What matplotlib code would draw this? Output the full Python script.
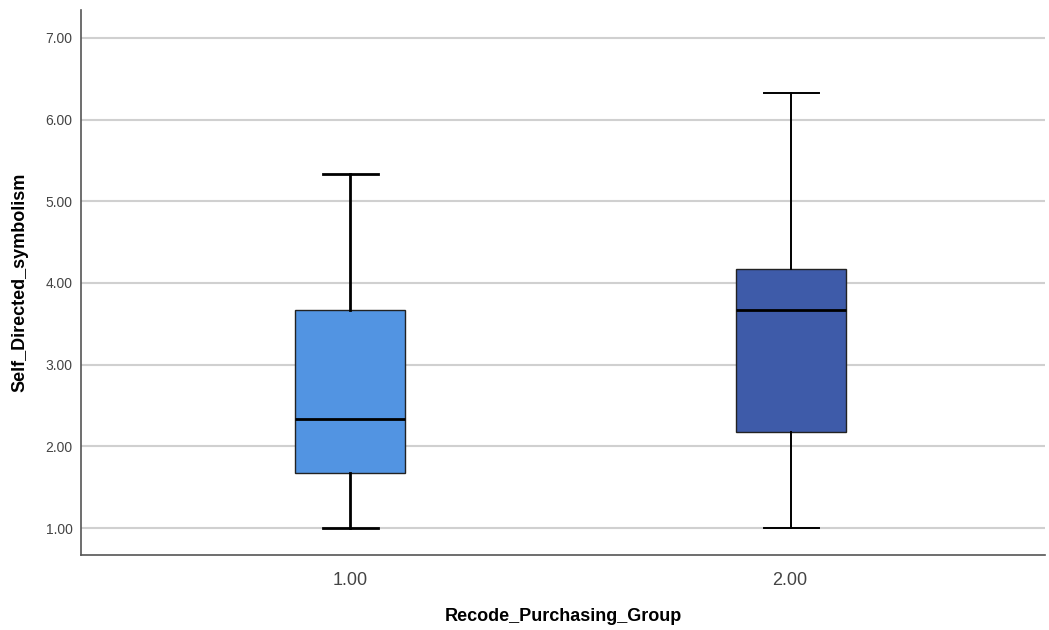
import matplotlib
matplotlib.use("Agg")
import matplotlib.pyplot as plt

plt.rcParams['font.family'] = ['Liberation Sans', 'DejaVu Sans']

# Box plot statistics
groups = ["1.00", "2.00"]
positions = [1, 2]
whislo = [1.00, 1.00]
q1 = [1.67, 2.17]
med = [2.33, 3.67]
q3 = [3.67, 4.17]
whishi = [5.33, 6.33]
colors = ["#5294E2", "#3E5BA9"]
whisker_lw = [2.0, 1.4]

y_ticks = [1, 2, 3, 4, 5, 6, 7]

fig = plt.figure(figsize=(10.49, 6.30), dpi=100)
ax = fig.add_axes([0.0772, 0.119, 0.919, 0.865])

for i in range(len(groups)):
    stats = [{
        'whislo': whislo[i], 'q1': q1[i], 'med': med[i],
        'q3': q3[i], 'whishi': whishi[i], 'fliers': [], 'label': groups[i]
    }]
    ax.bxp(stats, positions=[positions[i] + 0.003 * i], widths=0.25, patch_artist=True,
           showfliers=False,
           boxprops=dict(facecolor=colors[i], edgecolor='#222222', linewidth=1.0),
           medianprops=dict(color='black', linewidth=2.0),
           whiskerprops=dict(color='black', linewidth=whisker_lw[i]),
           capprops=dict(color='black', linewidth=whisker_lw[i]),
           capwidths=0.125, zorder=3)

ax.set_xlim(0.388, 2.58)
ax.set_ylim(0.67, 7.34)
ax.set_xticks(positions)
ax.set_xticklabels(groups, fontsize=13, color='#444444')
ax.set_yticks(y_ticks)
ax.set_yticklabels([f"{v:.2f}" for v in y_ticks], fontsize=10, color='#444444')
ax.tick_params(axis='both', length=0)
ax.tick_params(axis='x', pad=12)
ax.tick_params(axis='y', pad=6)

ax.yaxis.grid(True, color='#d0d0d0', linewidth=1.5, zorder=0)
ax.set_axisbelow(True)

for side in ['top', 'right']:
    ax.spines[side].set_visible(False)
for side in ['left', 'bottom']:
    ax.spines[side].set_color('#555555')
    ax.spines[side].set_linewidth(1.2)

ax.set_xlabel("Recode_Purchasing_Group", fontsize=13, fontweight='bold', labelpad=14)
ax.set_ylabel("Self_Directed_symbolism", fontsize=13, fontweight='bold', labelpad=12)

fig.savefig("out.png", dpi=100, facecolor='white')
